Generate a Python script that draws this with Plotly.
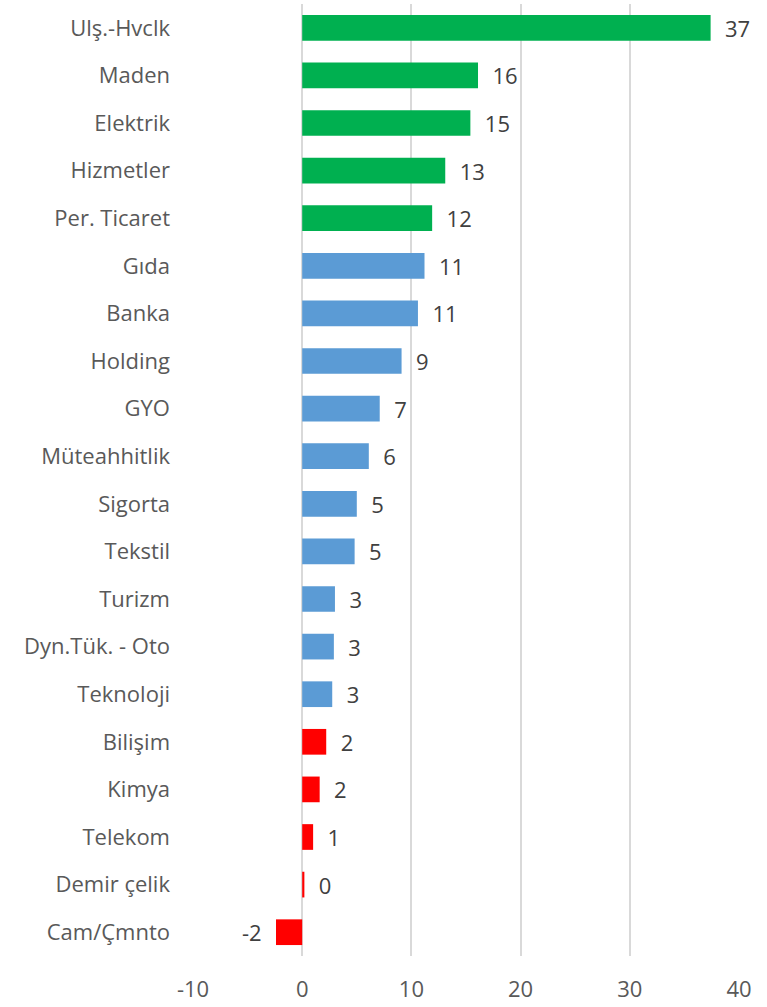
import plotly.graph_objects as go

categories = ["Ulş.-Hvclk", "Maden", "Elektrik", "Hizmetler", "Per. Ticaret", "Gıda", "Banka",
              "Holding", "GYO", "Müteahhitlik", "Sigorta", "Tekstil", "Turizm", "Dyn.Tük. - Oto",
              "Teknoloji", "Bilişim", "Kimya", "Telekom", "Demir çelik", "Cam/Çmnto"]
values = [37.4, 16.1, 15.4, 13.1, 11.9, 11.2, 10.6, 9.1, 7.1, 6.1, 5.0, 4.8, 3.0, 2.9, 2.75,
          2.2, 1.6, 1.0, 0.2, -2.4]
labels = ["37", "16", "15", "13", "12", "11", "11", "9", "7", "6", "5", "5", "3", "3", "3",
          "2", "2", "1", "0", "-2"]
groups = ["g"] * 5 + ["b"] * 10 + ["r"] * 5
x_ticks = [-10, 0, 10, 20, 30, 40]
x_tick_text = ["-10", "0", "10", "20", "30", "40"]

palette = {"g": "#00B050", "b": "#5B9BD5", "r": "#FF0000"}
colors = [palette[g] for g in groups]
pad = "\u00a0\u00a0"
templates = [(pad + "%{text}") if v >= 0 else ("%{text}" + pad) for v in values]

font = "Open Sans, Noto Sans, sans-serif"
fs = 22

fig = go.Figure(go.Bar(
    y=categories, x=values, orientation="h",
    marker=dict(color=colors, line=dict(width=0)),
    text=labels, texttemplate=templates, textposition="outside", cliponaxis=False,
    constraintext="none",
    textfont=dict(family=font, size=fs, color="#404040"),
    width=0.54,
))

fig.update_layout(
    width=767, height=1007,
    margin=dict(l=193, r=28, t=4, b=46),
    paper_bgcolor="white", plot_bgcolor="white",
    showlegend=False,
    font=dict(family=font, size=fs, color="#595959"),
    xaxis=dict(range=[-10, 40], tickmode="array", tickvals=x_ticks, ticktext=x_tick_text,
               showgrid=True, gridcolor="#D9D9D9",
               gridwidth=1.5, zeroline=True, zerolinecolor="#D9D9D9", zerolinewidth=1.5,
               showline=False, ticks="", ticklabelstandoff=18,
               tickfont=dict(family=font, size=fs, color="#595959")),
    yaxis=dict(autorange="reversed", showgrid=False, showline=False, ticks="",
               ticklabelstandoff=22,
               tickfont=dict(family=font, size=fs, color="#595959")),
)

fig.write_html("out.html")
